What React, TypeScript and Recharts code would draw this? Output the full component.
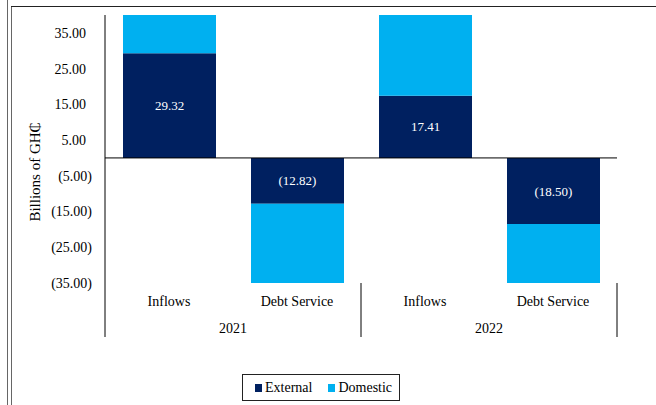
import React from 'react';
import { BarChart, Bar, XAxis, YAxis, ReferenceLine, Legend, LabelList } from 'recharts';

const categories = ['Inflows', 'Debt Service', 'Inflows', 'Debt Service'];
const years = ['2021', '2021', '2022', '2022'];
const external = [29.32, -12.82, 17.41, -18.5];
const domestic = [35.0, -37.0, 40.0, -45.0];
const yTicks = [-35, -25, -15, -5, 5, 15, 25, 35];
const seriesNames = ['External', 'Domestic'];

const data = categories.map((c, i) => ({
  id: `${years[i]}-${c}`,
  External: external[i],
  Domestic: domestic[i],
}));

const W = 656;
const H = 405;
const M = { top: 15, right: 39, bottom: 62, left: 45 };
const Y_W = 60;
const X_H = 60;
const PLOT_W = W - M.left - M.right - Y_W;
const FONT = "'Liberation Serif', 'Times New Roman', serif";
const DARK = '#002060';
const LIGHT = '#00B0F0';

const fmt = (v: number) => (v < 0 ? `(${Math.abs(v).toFixed(2)})` : v.toFixed(2));

const YTick = (props: any) => {
  const { x, y, payload } = props;
  const v = payload.value as number;
  const neg = v < 0;
  return (
    <text x={neg ? x - 13 : x - 19} y={y} dy="0.35em" textAnchor="end" fontFamily={FONT} fontSize={14} fill="#000">
      {fmt(v)}
    </text>
  );
};

const XTick = (props: any) => {
  const { x, y, index } = props;
  const band = PLOT_W / categories.length;
  return (
    <g>
      <text x={x} y={y + 23} textAnchor="middle" fontFamily={FONT} fontSize={14} fill="#000">
        {categories[index]}
      </text>
      {index % 2 === 0 && (
        <text x={x + band / 2} y={y + 50} textAnchor="middle" fontFamily={FONT} fontSize={14} fill="#000">
          {years[index]}
        </text>
      )}
      {index === 0 && <line x1={x - band / 2} x2={x - band / 2} y1={y} y2={y + 54} stroke="#000" strokeWidth={1} />}
      {index % 2 === 1 && <line x1={x + band / 2} x2={x + band / 2} y1={y} y2={y + 54} stroke="#000" strokeWidth={1} />}
    </g>
  );
};

const LegendContent = (props: any) => {
  const payload = [...(props.payload || [])].sort(
    (a: any, b: any) => seriesNames.indexOf(a.value) - seriesNames.indexOf(b.value)
  );
  return (
    <div
      style={{
        boxSizing: 'border-box',
        width: 158,
        height: 27,
        border: '1.5px solid #222',
        display: 'flex',
        alignItems: 'center',
        paddingLeft: 12,
        fontFamily: FONT,
        fontSize: 14,
        color: '#000',
      }}
    >
      {payload.map((p: any, i: number) => (
        <div key={p.value} style={{ display: 'flex', alignItems: 'center', marginRight: i === 0 ? 16 : 0 }}>
          <span style={{ display: 'inline-block', width: 7, height: 8, background: p.color, marginRight: 3 }} />
          <span>{p.value}</span>
        </div>
      ))}
    </div>
  );
};

export default function App() {
  return (
    <div style={{ position: 'absolute', left: 0, top: 0, width: W, height: H, background: '#fff' }}>
      <div style={{ position: 'absolute', left: 7, top: 0, width: 1, height: H, background: '#666' }} />
      <div style={{ position: 'absolute', left: 11, top: 6, width: 1, height: H - 6, background: '#666' }} />
      <div style={{ position: 'absolute', left: 11, top: 6, width: W - 11, height: 1, background: '#222' }} />
      <BarChart width={W} height={H} data={data} margin={M} stackOffset="sign" barSize={93}>
        <XAxis
          dataKey="id"
          axisLine={false}
          tickLine={false}
          tickSize={0}
          tickMargin={0}
          height={X_H}
          tick={<XTick />}
          interval={0}
        />
        <YAxis
          type="number"
          domain={[-35, 40]}
          allowDataOverflow
          ticks={yTicks}
          width={Y_W}
          tickLine={false}
          tickSize={0}
          tickMargin={0}
          axisLine={{ stroke: '#000', strokeWidth: 1 }}
          tick={<YTick />}
          label={{
            content: () => (
              <text
                x={35}
                y={172}
                transform="rotate(-90 35 172)"
                textAnchor="middle"
                dy="0.35em"
                fontFamily={FONT}
                fontSize={15}
                fill="#000"
              >
                Billions of GH₵
              </text>
            ),
          }}
        />
        <Bar dataKey="External" stackId="a" fill={DARK} isAnimationActive={false}>
          <LabelList dataKey="External" position="center" fill="#fff" fontFamily={FONT} fontSize={13} formatter={(v: any) => fmt(Number(v))} />
        </Bar>
        <Bar dataKey="Domestic" stackId="a" fill={LIGHT} isAnimationActive={false} />
        <ReferenceLine y={0} stroke="#000" strokeWidth={1} />
        <Legend
          layout="horizontal"
          verticalAlign="middle"
          align="center"
          itemSorter={null as any}
          wrapperStyle={{ top: 374, left: 242, width: 158, height: 27 }}
          content={<LegendContent />}
        />
      </BarChart>
    </div>
  );
}
